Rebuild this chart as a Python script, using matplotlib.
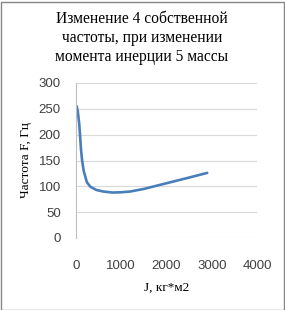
import matplotlib
matplotlib.use("Agg")
import matplotlib.pyplot as plt
from matplotlib.patches import Rectangle

J = [15, 40, 70, 90, 110, 135, 170, 240, 320, 450, 600, 800, 1000, 1200, 1500, 2000, 2500, 2900]
F = [255, 245, 222, 198, 172, 150, 130, 108, 99, 93, 90, 88, 88.5, 90, 95, 106, 117, 126]

title = "Изменение 4 собственной\nчастоты, при изменении\nмомента инерции 5 массы"
xlabel = "J, кг*м2"
ylabel = "Частота F, Гц"
xticks = [0, 1000, 2000, 3000, 4000]
yticks = [0, 50, 100, 150, 200, 250, 300]

W, H = 285, 310
fig = plt.figure(figsize=(W / 100, H / 100), dpi=100)
fig.patch.set_facecolor("white")
fig.add_artist(Rectangle((0.5 / W, 0.5 / H), 1 - 2 / W, 1 - 2 / H, transform=fig.transFigure,
                         fill=False, edgecolor="#868686", linewidth=1.0))

left, right, top, bottom = 76, 257, 83, 238
ax = fig.add_axes([left / W, 1 - bottom / H, (right - left) / W, (bottom - top) / H])
ax.plot(J, F, color="#4a7ebb", linewidth=1.9, solid_capstyle="round", solid_joinstyle="round")
ax.set_xlim(0, 4000)
ax.set_ylim(0, 300)
ax.set_xticks(xticks)
ax.set_yticks(yticks)
ax.grid(axis="y", color="#d9d9d9", linewidth=0.8)
ax.set_axisbelow(True)
for s in ["top", "right", "bottom"]:
    ax.spines[s].set_visible(False)
ax.spines["left"].set_color("#bfbfbf")
ax.spines["left"].set_linewidth(0.8)
ax.tick_params(length=0, labelsize=9.5, colors="#404040")
ax.tick_params(axis="y", pad=11)
ax.tick_params(axis="x", pad=16)
for lab in ax.get_xticklabels() + ax.get_yticklabels():
    lab.set_family("Liberation Sans")

fig.text(142 / W, 1 - 38 / H, title, ha="center", va="center", family="Liberation Serif",
         fontsize=11.2, linespacing=1.25)
fig.text(167 / W, 1 - 288 / H, xlabel, ha="center", va="center", family="Liberation Serif", fontsize=9.5)
fig.text(26 / W, 1 - 160 / H, ylabel, ha="center", va="center", rotation=90,
         family="Liberation Serif", fontsize=9.5)

fig.savefig("out.png", dpi=100)
